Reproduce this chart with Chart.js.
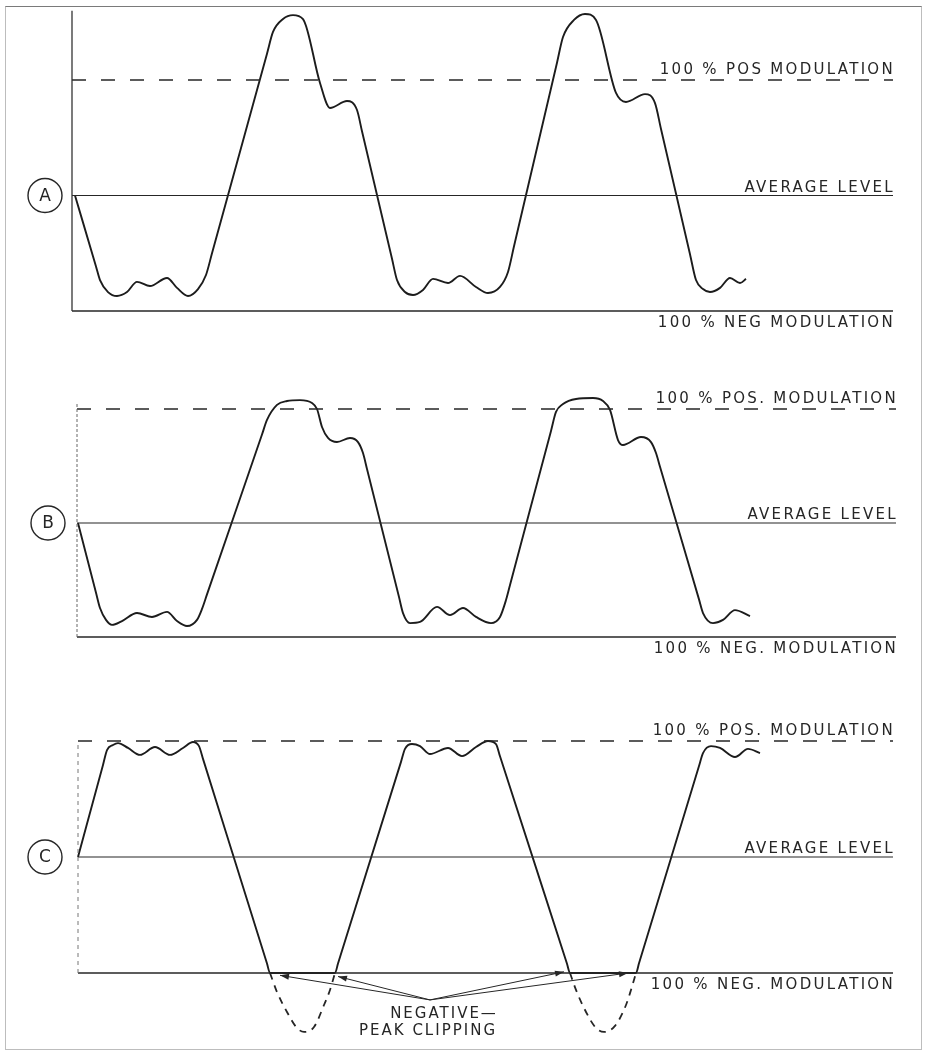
<!DOCTYPE html>
<html>
<head>
<meta charset="utf-8">
<title>Negative-peak clipping</title>
<script src="https://cdn.jsdelivr.net/npm/chart.js@4.4.1/dist/chart.umd.min.js"></script>
<style>
  html, body { margin: 0; padding: 0; background: #fff; }
  #page { position: relative; width: 926px; height: 1051px; overflow: hidden; }
  #page canvas { position: absolute; left: 0; }
  #frame { position: absolute; left: 5px; top: 6px; width: 915px; height: 1042px;
           border: 1px solid #bdbdbd; border-top-color: #7a7a7a; pointer-events: none; }
</style>
</head>
<body>
<div id="page">
  <canvas id="panelA" width="926" height="340" style="top:0px"></canvas>
  <canvas id="panelB" width="926" height="330" style="top:340px"></canvas>
  <canvas id="panelC" width="926" height="381" style="top:670px"></canvas>
  <div id="frame"></div>
</div>
<script>
// levels in per cent of the modulation range (0 = 100% neg, 100 = 100% pos)
const levelPos = 100;
const levelAvg = 50;
const levelNeg = 0;

// time where the level lines stop, and height of the left reference line, per panel
const lineEnd = [821, 819, 815];
const axisTop = [130, 103, 100];

const labelsA = ['100 % POS MODULATION', 'AVERAGE LEVEL', '100 % NEG MODULATION'];
const labelsB = ['100 % POS. MODULATION', 'AVERAGE LEVEL', '100 % NEG. MODULATION'];
const labelsC = ['100 % POS. MODULATION', 'AVERAGE LEVEL', '100 % NEG. MODULATION'];
const clipNote = ['NEGATIVE—', 'PEAK CLIPPING'];

// waveform A  [time, level]
const waveA = [
  [3, 50], [24, 19.3], [28, 13.4], [36, 8.2], [45, 6.5], [55, 8.2], [65, 12.6], [78, 10.8],
  [95, 14.3], [105, 10], [116, 6.5], [126, 9.5], [134, 15.6], [140, 25], [195, 111.4],
  [201, 120.8], [211, 126.4], [221, 128.1], [231, 126.4], [248, 98.7], [258, 87.9],
  [275, 90.9], [285, 87], [290, 77.8], [320, 22.6], [325, 13.4], [333, 8.2], [341, 6.9],
  [351, 9.1], [361, 13.9], [376, 12.1], [388, 15.2], [404, 10.4], [416, 7.8], [428, 10.4],
  [436, 16.9], [442, 28], [485, 107.5], [491, 118.6], [502, 126], [513, 128.6], [524, 126],
  [544, 94.4], [554, 90.5], [573, 93.9], [583, 90], [589, 78.8], [618, 24.6], [624, 13.4],
  [631, 9.5], [638, 8.2], [648, 10], [658, 14.3], [668, 12.1], [674, 13.9]
];

// waveform B
const waveB = [
  [1, 50], [19, 19.4], [23, 12.7], [29, 7.5], [35, 5.3], [45, 7], [60, 10.5], [75, 8.8],
  [90, 11], [100, 7], [110, 4.8], [120, 7.5], [125, 12.3], [130, 18.7], [185, 88.8],
  [190, 95.2], [200, 101.8], [210, 103.5], [223, 103.9], [235, 102.6], [240, 100],
  [245, 92.1], [251, 87.3], [260, 85.5], [273, 87.3], [281, 85.5], [286, 80.7], [290, 73.7],
  [322, 17.5], [326, 10.5], [333, 6.1], [343, 6.6], [360, 13.2], [373, 9.6], [386, 12.7],
  [399, 8.8], [414, 6.1], [423, 8.8], [429, 16.2], [434, 24.5], [474, 90.4], [479, 98.7],
  [486, 102.2], [499, 104.4], [516, 104.8], [526, 103.5], [533, 99.6], [541, 86.4],
  [546, 84.2], [564, 87.7], [574, 85.5], [579, 80.7], [583, 74.7], [622, 16.5], [626, 10.5],
  [636, 6.1], [646, 7.5], [658, 11.8], [673, 9.2]
];

// waveform C, negative peaks clipped at the 100% neg level
const waveC = [
  [0, 50], [25, 89.7], [29, 96.1], [35, 98.3], [40, 99.1], [50, 97], [62, 94], [77, 97.4],
  [92, 94], [105, 97], [115, 99.6], [121, 97.8], [125, 92.3], [189, 4.1], [192, 0],
  [257, 0], [260, 4.1], [323, 91], [327, 96.6], [334, 98.7], [342, 97.8], [352, 94.4],
  [370, 97], [384, 93.5], [398, 97.4], [410, 100], [418, 98.7], [422, 93.4], [489, 4],
  [492, 0], [558, 0], [561, 4.2], [621, 89.2], [625, 94.8], [633, 97.8], [642, 97],
  [657, 93.1], [670, 96.6], [682, 94.8]
];

// the peaks that were cut off (dashed)
const troughC1 = [[192, 0], [199, -8.2], [209, -16.8], [219, -23.7], [226, -25.4], [236, -23.3], [246, -13.8], [252, -7.3], [257, 0]];
const troughC2 = [[492, 0], [498, -7.3], [508, -16.8], [518, -23.7], [526, -25.4], [537, -22.8], [548, -13.8], [553, -7.3], [558, 0]];

// leader arrows of the note
const arrowFrom = [352, -11.6];
const arrowTo = [[202, -1], [260, -1.5], [486, 0.5], [550, 0]];

const ink = '#262626';

const pts = arr => arr.map(([x, y]) => ({ x, y }));

function line(data, extra) {
  return Object.assign({
    data: pts(data),
    showLine: true,
    pointRadius: 0,
    borderColor: ink,
    borderWidth: 1.3,
    fill: false,
    clip: false
  }, extra);
}

// labels, circled letter and notes
const panelText = {
  id: 'panelText',
  afterDatasetsDraw(chart, args, opts) {
    const { ctx } = chart;
    const x = chart.scales.x, y = chart.scales.y;
    const right = x.getPixelForValue(opts.end) + 2;
    ctx.save();
    ctx.fillStyle = ink;
    ctx.strokeStyle = ink;
    ctx.font = '15px "DejaVu Sans"';
    ctx.letterSpacing = '2.3px';
    ctx.textAlign = 'right';
    ctx.textBaseline = 'alphabetic';
    ctx.fillText(opts.labels[0], right, y.getPixelForValue(levelPos) - 6);
    ctx.fillText(opts.labels[1], right, y.getPixelForValue(levelAvg) - 4);
    ctx.fillText(opts.labels[2], right, y.getPixelForValue(levelNeg) + 16);

    const cx = x.getPixelForValue(opts.circleAt);
    const cy = y.getPixelForValue(levelAvg);
    ctx.beginPath();
    ctx.arc(cx, cy, 17, 0, Math.PI * 2);
    ctx.lineWidth = 1.4;
    ctx.stroke();
    ctx.letterSpacing = '0px';
    ctx.textAlign = 'center';
    ctx.textBaseline = 'middle';
    ctx.font = '17px "DejaVu Sans"';
    ctx.fillText(opts.letter, cx, cy + 1);

    if (opts.note) {
      ctx.font = '15px "DejaVu Sans"';
      ctx.letterSpacing = '2px';
      ctx.textBaseline = 'alphabetic';
      opts.note.forEach(n => {
        ctx.fillText(n.text, x.getPixelForValue(n.x), y.getPixelForValue(n.y));
      });
    }
    ctx.restore();
  }
};

// filled heads on datasets marked as arrows
const arrowHeads = {
  id: 'arrowHeads',
  afterDatasetsDraw(chart) {
    const { ctx } = chart;
    chart.data.datasets.forEach((ds, i) => {
      if (!ds.arrow) return;
      const el = chart.getDatasetMeta(i).data;
      const a = el[el.length - 2], b = el[el.length - 1];
      const ang = Math.atan2(b.y - a.y, b.x - a.x);
      ctx.save();
      ctx.translate(b.x, b.y);
      ctx.rotate(ang);
      ctx.beginPath();
      ctx.moveTo(0, 0);
      ctx.lineTo(-9, -3);
      ctx.lineTo(-9, 3);
      ctx.closePath();
      ctx.fillStyle = ink;
      ctx.fill();
      ctx.restore();
    });
  }
};

function makePanel(id, cfg) {
  const canvas = document.getElementById(id);
  const W = canvas.width, H = canvas.height;
  const unit = (cfg.negPx - cfg.posPx) / (levelPos - levelNeg);

  const datasets = [
    line([[0, levelNeg], [0, cfg.axisTop]], { borderWidth: cfg.axisWidth, borderColor: cfg.axisColor, borderDash: cfg.axisDash }),
    line([[0, levelPos], [cfg.end, levelPos]], { borderDash: [14, 15], borderWidth: 1.4 }),
    line([[0, levelAvg], [cfg.end, levelAvg]], { borderWidth: 1.2 }),
    line([[0, levelNeg], [cfg.end, levelNeg]], { borderWidth: 1.5 }),
    line(cfg.wave, { borderWidth: 1.9, cubicInterpolationMode: 'monotone', borderColor: '#1c1c1c' })
  ].concat(cfg.extra || []);

  return new Chart(canvas, {
    type: 'scatter',
    data: { datasets },
    options: {
      responsive: false,
      animation: false,
      devicePixelRatio: 1,
      events: [],
      layout: { padding: 0 },
      plugins: {
        legend: { display: false },
        tooltip: { enabled: false },
        panelText: { labels: cfg.labels, letter: cfg.letter, circleAt: cfg.circleAt, note: cfg.note, end: cfg.end }
      },
      scales: {
        x: { type: 'linear', display: false, min: -cfg.axisPx, max: W - cfg.axisPx },
        y: { type: 'linear', display: false,
             min: levelNeg - (H - cfg.negPx) / unit,
             max: levelNeg + cfg.negPx / unit }
      }
    },
    plugins: [panelText, arrowHeads]
  });
}

makePanel('panelA', {
  axisPx: 72, negPx: 311, posPx: 80, end: lineEnd[0],
  axisTop: axisTop[0], axisWidth: 1.3, axisColor: '#333',
  wave: waveA, labels: labelsA, letter: 'A', circleAt: -27
});

makePanel('panelB', {
  axisPx: 77, negPx: 297, posPx: 69, end: lineEnd[1],
  axisTop: axisTop[1], axisWidth: 1, axisColor: '#666', axisDash: [3, 2],
  wave: waveB, labels: labelsB, letter: 'B', circleAt: -29
});

const troughStyle = { borderDash: [7, 6], borderWidth: 1.8, cubicInterpolationMode: 'monotone' };
const arrowStyle = { borderWidth: 1, arrow: true };

makePanel('panelC', {
  axisPx: 78, negPx: 303, posPx: 71, end: lineEnd[2],
  axisTop: axisTop[2], axisWidth: 1, axisColor: '#777', axisDash: [4, 4],
  wave: waveC, labels: labelsC, letter: 'C', circleAt: -33,
  note: [
    { text: clipNote[0], x: 366, y: -19.4 },
    { text: clipNote[1], x: 350, y: -26.7 }
  ],
  extra: [
    line(troughC1, troughStyle),
    line(troughC2, troughStyle)
  ].concat(arrowTo.map(t => line([arrowFrom, t], arrowStyle)))
});
</script>
</body>
</html>
